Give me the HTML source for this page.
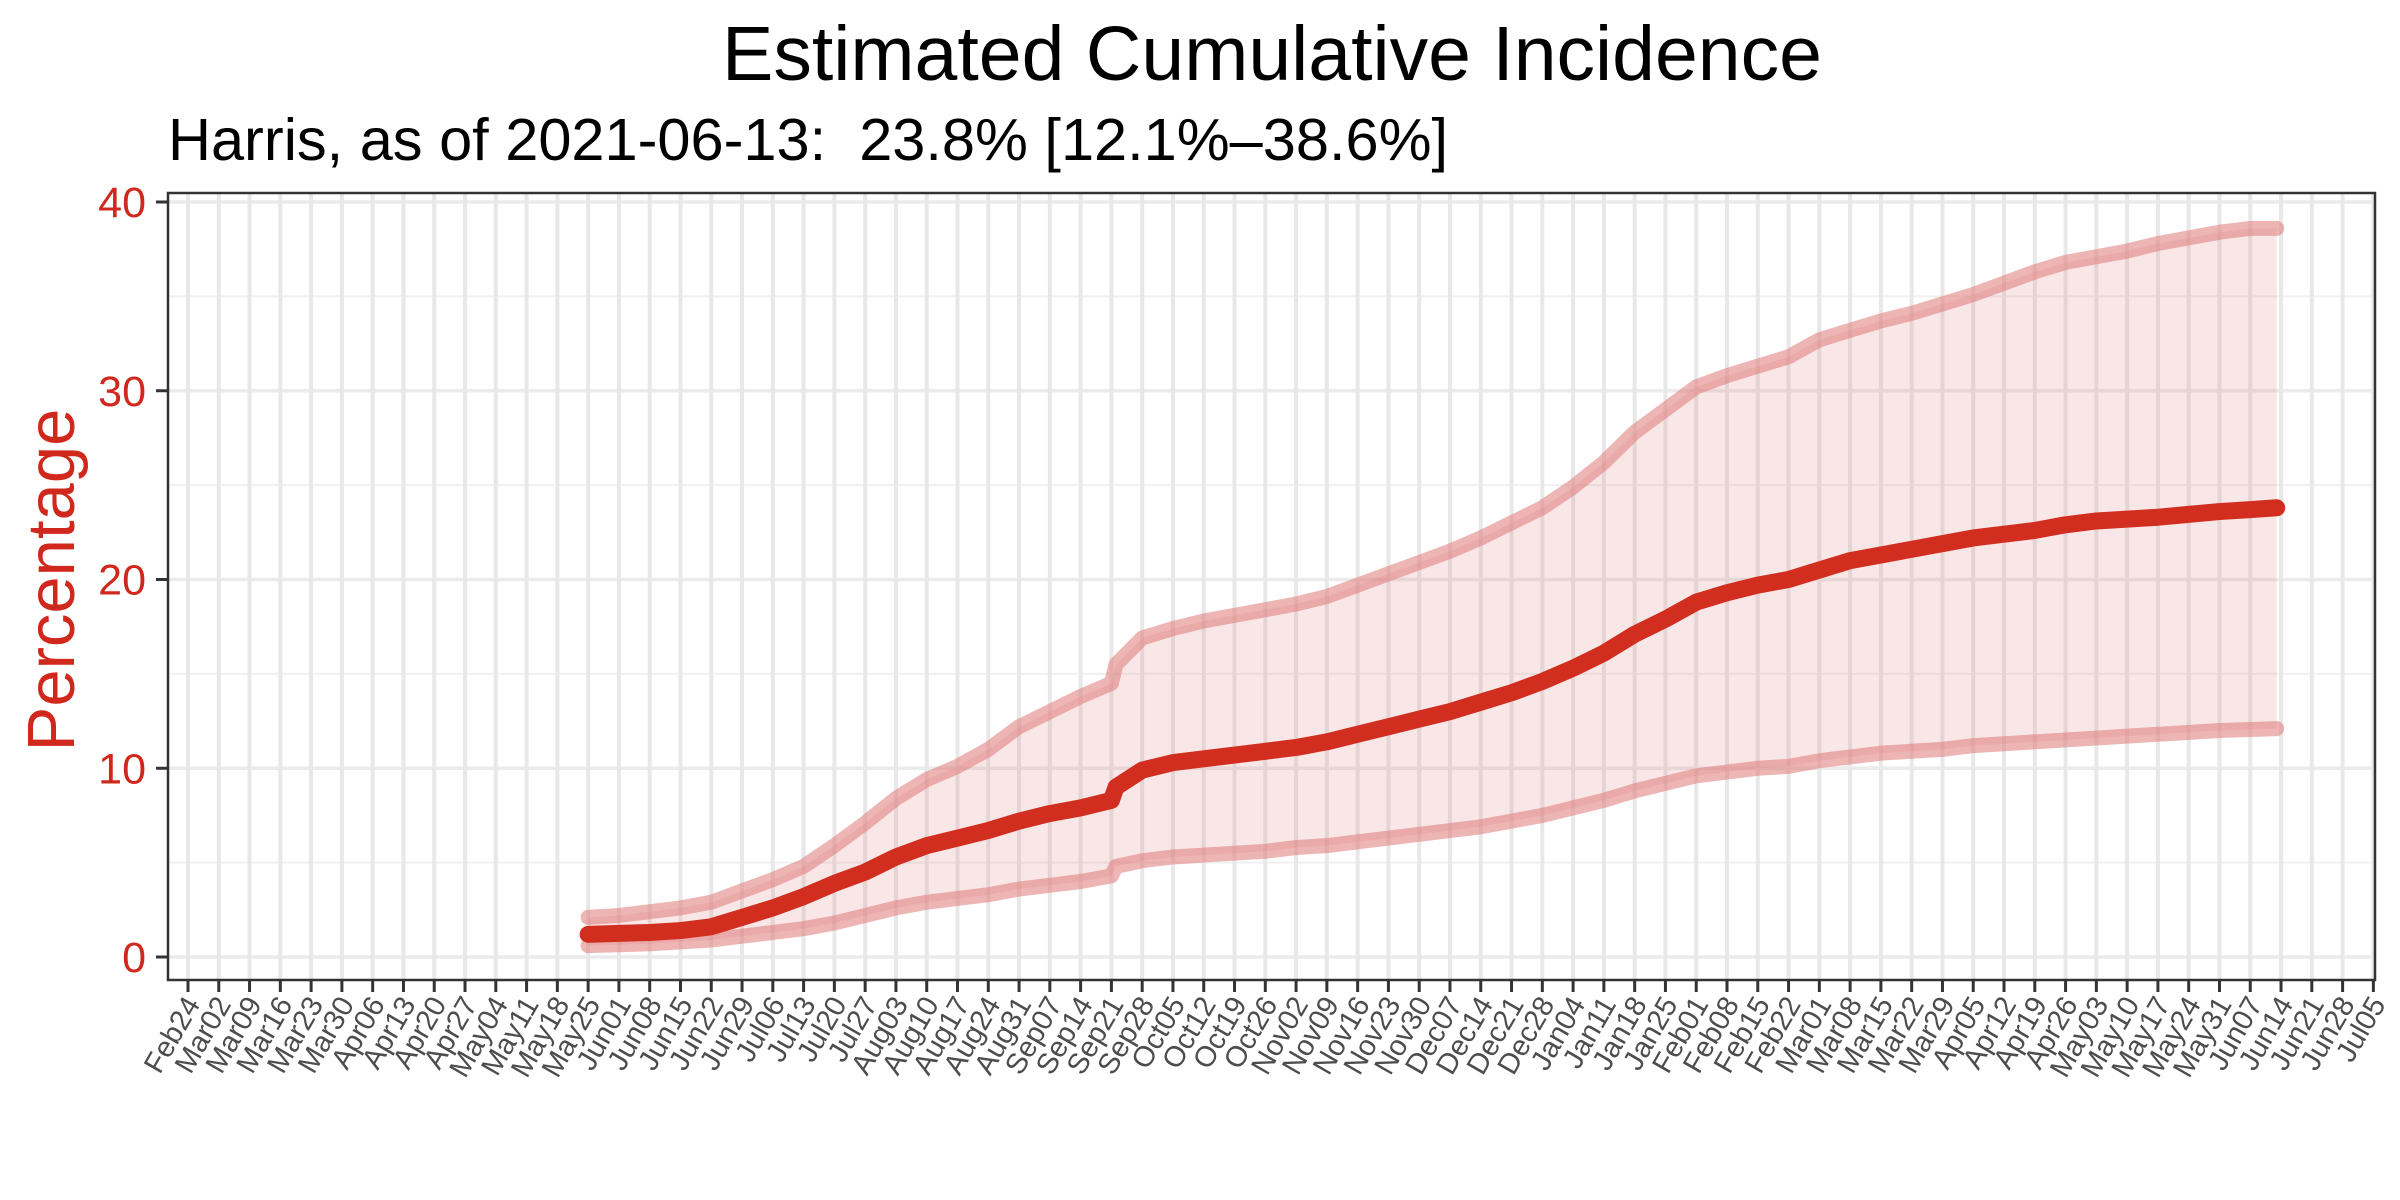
<!DOCTYPE html>
<html><head><meta charset="utf-8"><style>
html,body{margin:0;padding:0;background:#fff;}
svg{display:block;font-family:"Liberation Sans",Arial,sans-serif;}
</style></head><body>
<svg id="chart" width="2400" height="1200" viewBox="0 0 2400 1200" xmlns="http://www.w3.org/2000/svg">
<rect x="0" y="0" width="2400" height="1200" fill="#fff"/>
<text x="1272" y="80" font-size="77" text-anchor="middle" fill="#000">Estimated Cumulative Incidence</text>
<text x="168" y="160" font-size="59.5" fill="#000" xml:space="preserve">Harris, as of 2021-06-13:  23.8% [12.1%–38.6%]</text>
<text transform="translate(74,580) rotate(-90)" font-size="67" text-anchor="middle" fill="#d0281c">Percentage</text>
<g id="grid"></g>
<g id="band"></g>
<g id="lines"></g>
<rect x="168" y="193" width="2207" height="787" fill="none" stroke="#333" stroke-width="2.5"/>
<g id="axes"></g>
</svg>
<script>
const tickLabels = ["Feb24","Mar02","Mar09","Mar16","Mar23","Mar30","Apr06","Apr13","Apr20","Apr27","May04","May11","May18","May25","Jun01","Jun08","Jun15","Jun22","Jun29","Jul06","Jul13","Jul20","Jul27","Aug03","Aug10","Aug17","Aug24","Aug31","Sep07","Sep14","Sep21","Sep28","Oct05","Oct12","Oct19","Oct26","Nov02","Nov09","Nov16","Nov23","Nov30","Dec07","Dec14","Dec21","Dec28","Jan04","Jan11","Jan18","Jan25","Feb01","Feb08","Feb15","Feb22","Mar01","Mar08","Mar15","Mar22","Mar29","Apr05","Apr12","Apr19","Apr26","May03","May10","May17","May24","May31","Jun07","Jun14","Jun21","Jun28","Jul05"];
const yTicks = [0,10,20,30,40];
// week index from Feb24 (2020)
const weeks = [13,14,15,16,17,18,19,20,21,22,23,24,25,26,27,28,29,30,30.15,31,32,33,34,35,36,37,38,39,40,41,42,43,44,45,46,47,48,49,50,51,52,53,54,55,56,57,58,59,60,61,62,63,64,65,66,67,67.86];
const median = [1.2,1.25,1.3,1.4,1.6,2.1,2.6,3.2,3.9,4.5,5.3,5.9,6.3,6.7,7.2,7.6,7.9,8.3,9.0,9.9,10.3,10.5,10.7,10.9,11.1,11.4,11.8,12.2,12.6,13.0,13.5,14.0,14.6,15.3,16.1,17.1,17.9,18.8,19.3,19.7,20.0,20.5,21.0,21.3,21.6,21.9,22.2,22.4,22.6,22.9,23.1,23.2,23.3,23.45,23.6,23.7,23.8];
const upper = [2.1,2.2,2.4,2.6,2.9,3.5,4.1,4.8,5.9,7.1,8.4,9.4,10.1,11.0,12.2,13.0,13.8,14.5,15.5,16.9,17.4,17.8,18.1,18.4,18.7,19.1,19.7,20.3,20.9,21.5,22.2,23.0,23.8,24.9,26.2,27.8,29.0,30.2,30.8,31.3,31.8,32.7,33.2,33.7,34.1,34.6,35.1,35.7,36.3,36.8,37.1,37.4,37.8,38.1,38.4,38.6,38.6];
const lower = [0.6,0.65,0.7,0.8,0.9,1.1,1.3,1.5,1.8,2.2,2.6,2.9,3.1,3.3,3.6,3.8,4.0,4.3,4.8,5.1,5.3,5.4,5.5,5.6,5.8,5.9,6.1,6.3,6.5,6.7,6.9,7.2,7.5,7.9,8.3,8.8,9.2,9.6,9.8,10.0,10.1,10.4,10.6,10.8,10.9,11.0,11.2,11.3,11.4,11.5,11.6,11.7,11.8,11.9,12.0,12.05,12.1];

const NS="http://www.w3.org/2000/svg";
const X0=188, DX=30.78, Y0=957, DY=18.875;
const xs = w => X0 + w*DX;
const ys = v => Y0 - v*DY;
function mk(tag, attrs, parent){const e=document.createElementNS(NS,tag);for(const k in attrs)e.setAttribute(k,attrs[k]);parent.appendChild(e);return e;}
const grid=document.getElementById('grid'), axes=document.getElementById('axes');
for(let v=5; v<=40; v+=10){
  const l=mk('line',{x1:169,x2:2374,y1:ys(v),y2:ys(v),stroke:'#f0f0f0','stroke-width':2},grid);
  
  
}
yTicks.forEach(v=>{
  const l=mk('line',{x1:169,x2:2374,y1:ys(v),y2:ys(v),stroke:'#ebebeb','stroke-width':3.5},grid);
  
  
  const t=mk('line',{x1:156,x2:168,y1:ys(v),y2:ys(v),stroke:'#333','stroke-width':3},axes);
  
  
  const tx=mk('text',{x:146,y:ys(v)+15,'font-size':43,'text-anchor':'end',fill:'#d0281c'},axes);
  tx.textContent=v;
  
  
});
tickLabels.forEach((lab,i)=>{
  const x=xs(i);
  const l=mk('line',{x1:x,x2:x,y1:194,y2:979,stroke:'#e8e8e8','stroke-width':4},grid);
  
  
  const t=mk('line',{x1:x,x2:x,y1:980,y2:992,stroke:'#333','stroke-width':3},axes);
  
  
  const tx=mk('text',{transform:`translate(${x+13},${1004}) rotate(-60)`,'font-size':29,'text-anchor':'end',fill:'#4d4d4d'},axes);
  tx.textContent=lab;
  
  
});
let d='M'+weeks.map((w,i)=>xs(w)+','+ys(upper[i])).join(' L');
for(let i=weeks.length-1;i>=0;i--) d+=' L'+xs(weeks[i])+','+ys(lower[i]);
d+=' Z';
const bp=mk('path',{d:d,fill:'rgba(220,110,115,0.17)'},document.getElementById('band'));


const lines=document.getElementById('lines');
function series(vals,name,stroke,w){
  const p=mk('polyline',{points:weeks.map((wk,i)=>xs(wk)+','+ys(vals[i])).join(' '),fill:'none',stroke:stroke,'stroke-width':w,'stroke-linecap':'round','stroke-linejoin':'round'},lines);
  
  
}
series(upper,'upper-bound-line','rgba(224,120,120,0.55)',15);
series(lower,'lower-bound-line','rgba(224,120,120,0.55)',15);
series(median,'median-line','#d22e20',17);
</script>
</body></html>
